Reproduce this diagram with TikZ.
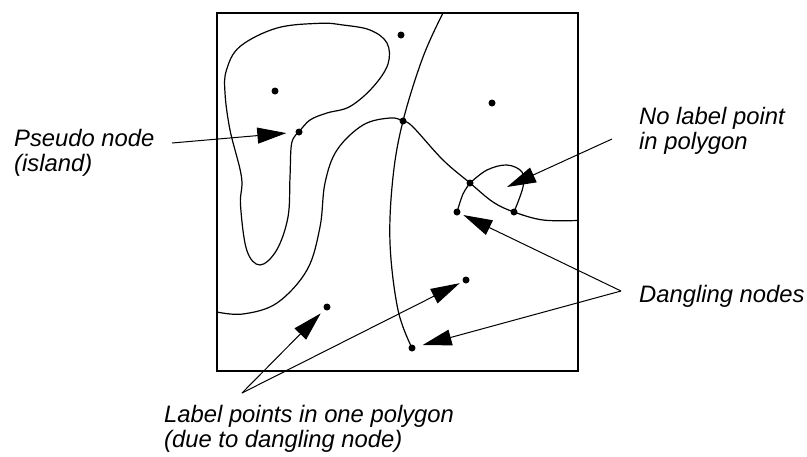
\documentclass[tikz,border=0pt]{standalone}
\usepackage{fontspec}
\setmainfont{Liberation Sans}
\usetikzlibrary{arrows.meta}
\tikzset{
  dot/.style={circle,fill=black,inner sep=0pt,minimum size=7pt},
  curve/.style={line width=1.2pt,line join=round},
  frame/.style={line width=2.4pt},
  pointer/.style={line width=1pt,-{Triangle[length=29pt,width=16pt]}},
  lbl/.style={anchor=base west,align=left,inner sep=0pt,font=\fontsize{23.8}{24.2}\selectfont\itshape}
}
\begin{document}
\begin{tikzpicture}[x=1pt,y=-1pt]
\useasboundingbox (0,0) rectangle (807,456);
% frame
\draw[frame] (217,13) rectangle (578,371);
% dots
\node[dot] (top) at (401,35) {};
\node[dot] (isl) at (275,91) {};
\node[dot] (ne) at (492,103) {};
\node[dot] (pn) at (299,132) {};
\node[dot] (j) at (403,121) {};
\node[dot] (b1) at (470,183) {};
\node[dot] (d1) at (457,212) {};
\node[dot] (b2) at (514,212) {};
\node[dot] (lp2) at (466,280) {};
\node[dot] (lp1) at (327,307) {};
\node[dot] (d2) at (412,348) {};
\coordinate (nl) at (507,187);
% island loop
\draw[curve] plot[smooth,tension=0.6] coordinates {(pn.center) (310,120) (327,113) (350,106.5) (373,87) (388,64) (387,43) (370,30) (343,25) (320,23.3) (277,28) (240,46.5) (226.5,70) (225,93) (230,130) (241.5,177) (240.5,205) (246.7,250) (260,265) (276.7,250) (288,217) (290,177) (291.7,143) (pn.center)};
% S curve through junction
\draw[curve] plot[smooth,tension=0.6] coordinates {(217,312) (243,314) (277,303) (307,270) (320,227) (325,183) (337,150) (363,125) (390,118) (j.center) (413,127) (443,160) (b1.center) (493,202) (b2.center) (543,220) (577,220.5)};
% vertical curve
\draw[curve] plot[smooth,tension=0.6] coordinates {(443,13) (423,57) (j.center) (393,177) (390,243) (398,310) (d2.center)};
% small loop
\draw[curve] plot[smooth,tension=0.6] coordinates {(b1.center) (487,170) (507,165) (522,172) (523,187) (b2.center)};
% stub
\draw[curve] plot[smooth,tension=0.6] coordinates {(b1.center) (463,194) (d1.center)};
% labels (base anchor = baseline of last line)
\node[lbl] (tpn) at (14,171) {Pseudo node\\(island)};
\node[lbl] (tnl) at (639,149) {No label point\\in polygon};
\node[lbl] (tdn) at (639,302) {Dangling nodes};
\node[lbl] (tlp) at (164,447) {Label points in one polygon\\(due to dangling node)};
% pointer origins
\coordinate (spn) at (172,143);
\coordinate (snl) at (612,139);
\coordinate (sdn) at (621,291);
\coordinate (slp) at (242,393);
% pointers
\draw[pointer,shorten >=9pt] (spn) -- (pn);
\draw[pointer] (snl) -- (nl);
\draw[pointer,shorten >=7pt] (sdn) -- (d1.center);
\draw[pointer,shorten >=11pt] (sdn) -- (d2.center);
\draw[pointer,shorten >=9pt] (slp) -- (lp1.center);
\draw[pointer,shorten >=7pt] (slp) -- (lp2.center);
\end{tikzpicture}
\end{document}
